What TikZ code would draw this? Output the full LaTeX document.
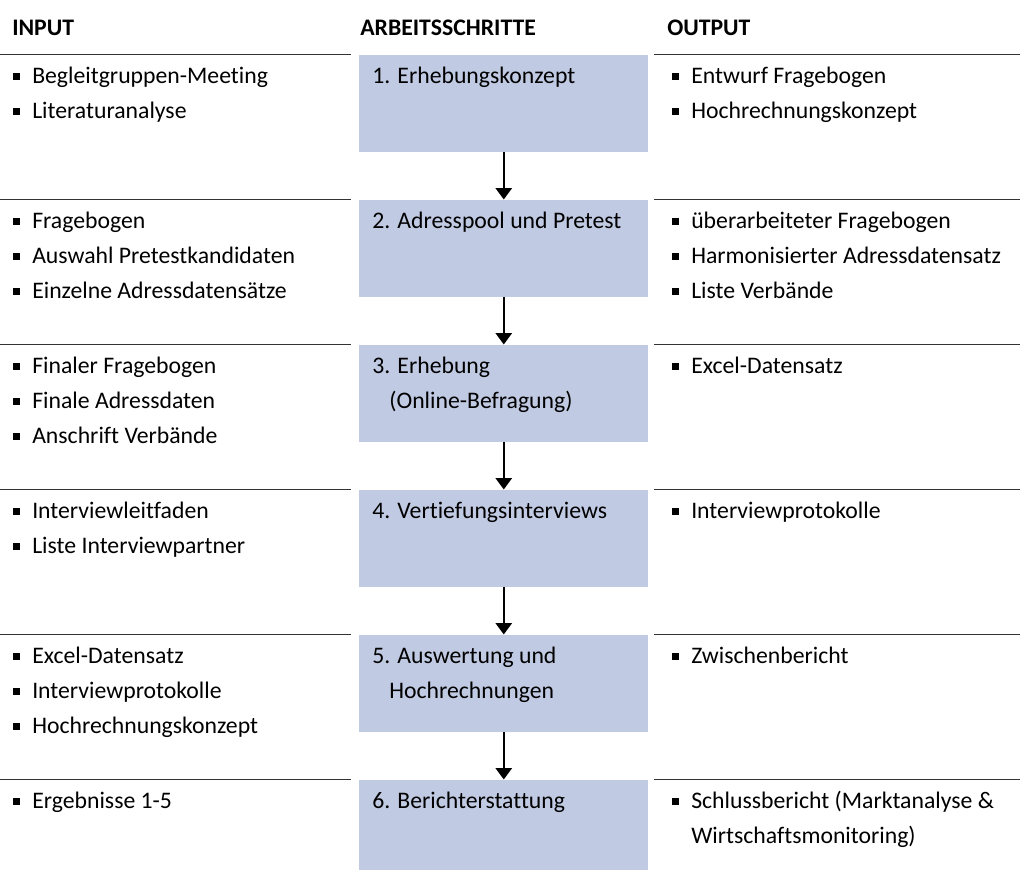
\documentclass[tikz,border=0pt]{standalone}
\usepackage{fontspec}
\setmainfont{Carlito}[Ligatures={NoCommon}]
\usetikzlibrary{arrows.meta,positioning}
\definecolor{stepblue}{RGB}{193,202,227}
\newcommand{\bul}{\makebox[0.8em][l]{\rule[0.13em]{0.3em}{0.3em}}}
\newcommand{\hang}{\hspace*{0.8em}}
\newcommand{\tstrut}{\rule{0pt}{0.8em}}

\begin{document}
\begin{tikzpicture}[x=0.75pt,y=-0.75pt,
        every node/.style={inner sep=0pt,anchor=north west,align=left,
            font=\fontsize{17.8}{26.25}\selectfont},
        head/.style={font=\fontsize{17.8}{26.25}\selectfont\bfseries},
        stepbox/.style={fill=stepblue,minimum width=216.75pt,minimum height=72.75pt},
        rule/.style={draw=black!80,line width=0.9pt},
        flow/.style={-{Triangle[width=12pt,length=8.5pt]},line width=1.7pt}
    ]
        \path[use as bounding box,clip] (0,0) rectangle (1020,870);

        % column heads
        \node[head] (hin) at (12,16) {\tstrut INPUT};
        \node[head] (hstep) at (360,16) {\tstrut ARBEITSSCHRITTE};
        \node[head] (hout) at (667,16) {\tstrut OUTPUT};

        % separators
        \foreach \y in {54.5,199.5,344.5,489.5,634.5,779.5} {
            \draw[rule] (0,\y) -- (351,\y);
            \draw[rule] (654,\y) -- (1020,\y);
        }

        % steps
        \node[stepbox] (step1) at (359,54.5) {};
        \node[stepbox] (step2) at (359,199.5) {};
        \node[stepbox] (step3) at (359,344.5) {};
        \node[stepbox] (step4) at (359,489.5) {};
        \node[stepbox] (step5) at (359,634.5) {};
        \node[stepbox] (step6) at (359,779.5) {};

        \node (lab1) at ([xshift=9.75pt,yshift=-7.1pt]step1.north west)
            {\tstrut 1. Erhebungskonzept};
        \node (lab2) at ([xshift=9.75pt,yshift=-7.1pt]step2.north west)
            {\tstrut 2. Adresspool und Pretest};
        \node (lab3) at ([xshift=9.75pt,yshift=-7.1pt]step3.north west)
            {\tstrut 3. Erhebung\\ \hspace*{0.72em}(Online-Befragung)};
        \node (lab4) at ([xshift=9.75pt,yshift=-7.1pt]step4.north west)
            {\tstrut 4. Vertiefungsinterviews};
        \node (lab5) at ([xshift=9.75pt,yshift=-7.1pt]step5.north west)
            {\tstrut 5. Auswertung und\\ \hspace*{0.72em}Hochrechnungen};
        \node (lab6) at ([xshift=9.75pt,yshift=-7.1pt]step6.north west)
            {\tstrut 6. Berichterstattung};

        \draw[flow] (step1.south) -- (step2.north);
        \draw[flow] (step2.south) -- (step3.north);
        \draw[flow] (step3.south) -- (step4.north);
        \draw[flow] (step4.south) -- (step5.north);
        \draw[flow] (step5.south) -- (step6.north);

        % input
        \node (in1) at (13,64) {\tstrut\bul Begleitgruppen-Meeting\\ \bul Literaturanalyse};
        \node (in2) at (13,209) {\tstrut\bul Fragebogen\\ \bul Auswahl Pretestkandidaten\\
            \bul Einzelne Adressdatensätze};
        \node (in3) at (13,354) {\tstrut\bul Finaler Fragebogen\\ \bul Finale Adressdaten\\
            \bul Anschrift Verbände};
        \node (in4) at (13,499) {\tstrut\bul Interviewleitfaden\\ \bul Liste Interviewpartner};
        \node (in5) at (13,644) {\tstrut\bul Excel-Datensatz\\ \bul Interviewprotokolle\\
            \bul Hochrechnungskonzept};
        \node (in6) at (13,789) {\tstrut\bul Ergebnisse 1-5};

        % output
        \node (out1) at (672,64) {\tstrut\bul Entwurf Fragebogen\\ \bul Hochrechnungskonzept};
        \node (out2) at (672,209) {\tstrut\bul überarbeiteter Fragebogen\\
            \bul Harmonisierter Adressdatensatz\\ \bul Liste Verbände};
        \node (out3) at (672,354) {\tstrut\bul Excel-Datensatz};
        \node (out4) at (672,499) {\tstrut\bul Interviewprotokolle};
        \node (out5) at (672,644) {\tstrut\bul Zwischenbericht};
        \node (out6) at (672,789) {\tstrut\bul Schlussbericht (Marktanalyse \&\\
            \hang Wirtschaftsmonitoring)};
    \end{tikzpicture}
\end{document}
